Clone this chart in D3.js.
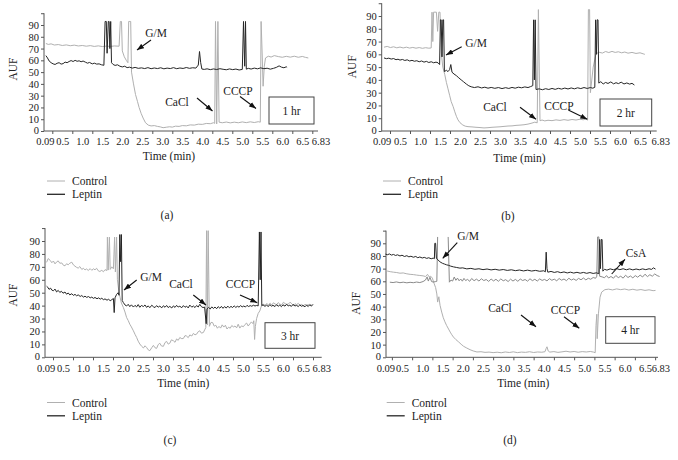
<!DOCTYPE html>
<html><head><meta charset="utf-8">
<script src="https://cdn.jsdelivr.net/npm/d3@7"></script>
<style>
body{margin:0;background:#fff}
svg text{font-family:"Liberation Serif","DejaVu Serif",serif;fill:#222;font-size:11.5px}
</style>
</head><body>
<svg id="chart" width="678" height="460"></svg>
<script>
// ---------- data ----------
const xTickValues = [0.09,0.5,1.0,1.5,2.0,2.5,3.0,3.5,4.0,4.5,5.0,5.5,6.0,6.5,6.83];
const xTickLabels = ["0.09","0.5","1.0","1.5","2.0","2.5","3.0","3.5","4.0","4.5","5.0","5.5","6.0","6.5","6.83"];
const xMinorTicks = [0.25,0.75,1.25,1.75,2.25,2.75,3.25,3.75,4.25,4.75,5.25,5.75,6.25,6.75];
const yTickValues = [0,10,20,30,40,50,60,70,80,90,100];
const yTickLabels = ["0","10","20","30","40","50","60","70","80","90",""];
const seriesNames = ["Control","Leptin"];
const panelLabels = ["(a)","(b)","(c)","(d)"];
const hourLabels = ["1 hr","2 hr","3 hr","4 hr"];
const xTitle = "Time (min)";
const yTitle = "AUF";

// panel (a) 1 hr
const ctrlA = [[0.09,74.3],[0.15,73.5],[0.22,74],[0.3,73],[0.4,73.4],[0.5,72.6],[0.6,73.1],[0.7,72.4],[0.8,72.9],[0.9,72.2],[1.0,72.6],[1.1,72],[1.2,72.5],[1.3,71.8],[1.4,72.3],[1.5,71.7],[1.6,72.1],[1.7,71.8],[1.8,72.2],[1.92,72],[1.95,93],[1.98,93],[2.0,68],[2.05,63],[2.1,60],[2.14,58],[2.16,93],[2.19,93],[2.21,93],[2.23,50],[2.28,40],[2.33,31],[2.38,25],[2.42,20],[2.47,15],[2.52,11],[2.58,7],[2.65,5],[2.72,4.3],[2.8,4.6],[2.88,3.9],[2.95,3.5],[3.02,2.8],[3.1,3.2],[3.18,3.6],[3.25,3.3],[3.33,4.1],[3.42,3.9],[3.5,4.6],[3.6,4.4],[3.7,5.2],[3.8,5],[3.9,5.8],[4.0,5.6],[4.1,6.4],[4.2,6.2],[4.28,7],[4.31,6.5],[4.33,93],[4.36,6],[4.39,93],[4.42,7.5],[4.5,7],[4.6,7.6],[4.7,6.9],[4.8,7.5],[4.9,7],[5.0,7.7],[5.1,7.1],[5.2,7.8],[5.3,7.2],[5.4,7.9],[5.45,7.5],[5.47,93],[5.5,62],[5.52,38],[5.55,55],[5.58,62],[5.65,63.5],[5.72,62.8],[5.8,64],[5.9,63.2],[6.0,62.6],[6.1,63.4],[6.2,62.7],[6.3,63.5],[6.4,62.6],[6.5,63.3],[6.58,62.5],[6.65,62]];
const leptA = [[0.09,64],[0.13,62],[0.17,59.5],[0.22,58],[0.27,57],[0.32,56.5],[0.37,57.5],[0.42,58],[0.47,56.8],[0.52,57.2],[0.57,58.5],[0.62,58],[0.67,59],[0.72,59.8],[0.77,59],[0.82,60],[0.87,59.2],[0.92,59.6],[0.97,58.8],[1.02,59.4],[1.08,58.4],[1.13,57.6],[1.18,58.2],[1.25,57],[1.3,57.6],[1.36,56.8],[1.42,57],[1.48,56.2],[1.54,55.8],[1.57,93],[1.6,93],[1.62,66],[1.65,93],[1.67,93],[1.69,70],[1.71,93],[1.73,58],[1.77,56.5],[1.82,55.7],[1.88,56.2],[1.94,55],[2.0,54.4],[2.06,55],[2.12,53.8],[2.18,54.2],[2.25,53.4],[2.32,54],[2.4,53.2],[2.48,53.6],[2.56,53],[2.64,53.8],[2.72,52.9],[2.8,53.5],[2.88,53],[2.96,53.7],[3.04,52.8],[3.12,53.4],[3.2,53],[3.28,53.8],[3.36,52.9],[3.44,53.5],[3.52,53.1],[3.6,53.9],[3.68,53.2],[3.76,53.7],[3.84,53.4],[3.9,56],[3.93,67.5],[3.96,58],[3.99,52.6],[4.05,52.3],[4.12,52.8],[4.2,52.1],[4.28,52.7],[4.36,52.2],[4.44,52.9],[4.52,52.4],[4.6,52],[4.68,52.7],[4.76,52.1],[4.84,52.6],[4.92,51.8],[5.0,52.3],[5.03,93],[5.06,55],[5.08,93],[5.1,52.5],[5.15,53.2],[5.22,52.6],[5.3,53.4],[5.38,52.8],[5.46,53.6],[5.54,52.9],[5.62,53.3],[5.7,52.5],[5.78,53.2],[5.85,54],[5.92,55.3],[5.98,54.2],[6.04,53.7],[6.1,54.5],[6.12,54]];

// panel (b) 2 hr
const ctrlB = [[0.1,65.6],[0.18,66.2],[0.26,65.3],[0.34,65.9],[0.42,65.1],[0.5,65.7],[0.58,65],[0.66,65.6],[0.74,64.9],[0.82,65.4],[0.9,64.8],[0.98,65.3],[1.06,64.7],[1.14,65.2],[1.22,64.8],[1.28,65],[1.3,93],[1.32,70],[1.34,93],[1.41,93],[1.44,78],[1.47,93],[1.5,93],[1.53,62],[1.57,50],[1.62,44],[1.66,38],[1.7,33],[1.74,28],[1.78,23],[1.83,19],[1.87,15],[1.91,11.5],[1.95,8.7],[2.0,6.5],[2.07,4.7],[2.13,3.8],[2.2,3.4],[2.3,3.2],[2.4,2.9],[2.5,2.7],[2.6,2.4],[2.7,2.6],[2.8,2.9],[2.9,3.1],[3.0,3.3],[3.1,3.6],[3.2,3.9],[3.3,4],[3.4,4.4],[3.5,4.6],[3.6,4.9],[3.7,5.4],[3.8,6.2],[3.87,6.9],[3.93,6.4],[3.96,95],[4.0,8],[4.05,8.6],[4.12,7.9],[4.2,8.4],[4.3,8.1],[4.4,8.7],[4.5,8.3],[4.6,8.9],[4.7,8.4],[4.8,9],[4.9,8.6],[5.0,9.2],[5.08,8.8],[5.16,9.4],[5.19,8.5],[5.21,95],[5.24,95],[5.26,30],[5.33,50],[5.4,60.5],[5.48,61.6],[5.56,61],[5.64,62.2],[5.72,61.4],[5.8,62.3],[5.88,61.5],[5.96,62],[6.04,61.2],[6.12,61.8],[6.2,60.9],[6.3,61.5],[6.4,60.7],[6.5,61.2],[6.58,60.4],[6.62,60]];
const leptB = [[0.1,57.2],[0.16,56.6],[0.22,57],[0.28,56.3],[0.34,56.7],[0.4,55.8],[0.45,56.2],[0.5,55.5],[0.56,56],[0.62,55.2],[0.68,55.7],[0.74,54.8],[0.8,55.3],[0.86,54.6],[0.92,55],[0.98,54.2],[1.04,54.8],[1.1,53.9],[1.16,54.5],[1.22,53.6],[1.28,54.2],[1.34,53.4],[1.4,53.9],[1.45,53.4],[1.49,52],[1.51,87],[1.53,87],[1.55,58],[1.57,87],[1.59,87],[1.61,46.5],[1.66,47.5],[1.7,46.5],[1.74,48],[1.77,52],[1.8,46],[1.85,44.6],[1.91,43.3],[1.97,41.6],[2.03,40],[2.09,38.5],[2.16,36.7],[2.22,35.4],[2.28,34.6],[2.36,34],[2.45,34.6],[2.54,33.7],[2.62,34.3],[2.7,33.5],[2.78,34.1],[2.87,33.4],[2.96,34],[3.05,33.2],[3.14,33.9],[3.22,33.3],[3.3,34.1],[3.38,33.5],[3.46,34.3],[3.54,33.8],[3.62,34.5],[3.7,34],[3.76,34.7],[3.82,35.5],[3.84,87],[3.86,40],[3.88,87],[3.9,32.5],[3.98,33],[4.06,32.3],[4.14,33.1],[4.22,32.5],[4.3,33.3],[4.38,32.6],[4.46,33.4],[4.54,32.8],[4.62,33.6],[4.7,32.9],[4.78,33.7],[4.86,33],[4.94,33.8],[5.02,33.2],[5.1,34],[5.18,33.3],[5.26,34],[5.32,33.5],[5.37,34.2],[5.39,87],[5.41,60],[5.43,87],[5.45,87],[5.47,37.5],[5.52,38.6],[5.58,36.8],[5.64,38],[5.7,37.2],[5.77,38.4],[5.84,36.9],[5.9,37.8],[5.96,37.1],[6.03,38.2],[6.1,36.8],[6.17,37.6],[6.24,36.7],[6.3,37.3],[6.36,36]];

// panel (c) 3 hr
const ctrlC = [[0.09,73.5],[0.13,76.4],[0.18,75],[0.22,73.2],[0.26,74.5],[0.3,72.3],[0.34,73.8],[0.38,74.6],[0.42,72.8],[0.47,73],[0.51,71.2],[0.55,70.8],[0.59,72.4],[0.63,71.6],[0.67,72.8],[0.72,73.6],[0.76,71.5],[0.8,70.5],[0.84,69.6],[0.88,69],[0.92,70.2],[0.97,68],[1.01,68.9],[1.05,67.6],[1.09,68.4],[1.13,67.2],[1.18,68.6],[1.22,67.3],[1.26,68.5],[1.3,67.7],[1.34,68.9],[1.38,67],[1.42,66.4],[1.47,67.3],[1.51,66.2],[1.55,67.8],[1.6,67.2],[1.61,93],[1.63,67.5],[1.66,93],[1.68,68],[1.72,70],[1.76,68.5],[1.79,93],[1.81,66],[1.84,93],[1.86,60],[1.9,50],[1.93,46],[1.96,42],[2.01,38.5],[2.05,35],[2.09,30.8],[2.13,28.5],[2.17,25.6],[2.21,23.5],[2.26,20.5],[2.3,17.8],[2.34,15.4],[2.38,12.5],[2.42,10.3],[2.47,8.4],[2.51,7.2],[2.55,8.9],[2.59,7.6],[2.63,5.8],[2.67,5.1],[2.72,7.5],[2.76,9.2],[2.8,7.4],[2.84,6.9],[2.88,9.8],[2.92,10.9],[2.96,8.8],[3.01,8.5],[3.05,11.4],[3.09,12.3],[3.13,10.2],[3.17,10.9],[3.21,13.5],[3.26,12.8],[3.3,11.6],[3.34,14.2],[3.38,13.1],[3.42,15.3],[3.47,14.4],[3.51,14.6],[3.55,16.8],[3.59,16.4],[3.63,15.2],[3.67,17.3],[3.72,16.5],[3.76,18.5],[3.8,17.4],[3.84,17.9],[3.88,19.8],[3.92,20.5],[3.96,18.7],[4.01,19.2],[4.05,21.8],[4.07,23],[4.09,98],[4.11,25],[4.13,98],[4.16,24],[4.2,27],[4.24,26.9],[4.28,24.1],[4.32,24.8],[4.36,22.5],[4.4,23.9],[4.44,22.6],[4.48,25.1],[4.52,23.4],[4.56,24.8],[4.6,21.9],[4.64,23.3],[4.68,22.5],[4.72,24.6],[4.76,23.5],[4.8,24.2],[4.84,22.8],[4.88,25.6],[4.92,22.6],[4.96,24.3],[5.01,23.7],[5.05,25.4],[5.09,26.5],[5.13,24.2],[5.17,25.8],[5.21,27.4],[5.25,26],[5.27,28.3],[5.29,13.8],[5.31,24],[5.34,30],[5.38,34],[5.42,35.9],[5.46,39.7],[5.5,41.2],[5.55,40.3],[5.59,41.5],[5.64,40.7],[5.68,41.8],[5.72,40.5],[5.76,42.2],[5.8,41.3],[5.84,40.6],[5.88,42.3],[5.92,41.2],[5.97,40.5],[6.01,42.6],[6.05,41.6],[6.09,40.8],[6.14,41.4],[6.18,42.7],[6.22,41.3],[6.26,40.2],[6.3,41.5],[6.34,40.6],[6.38,41.8],[6.42,40.4],[6.47,40.9],[6.51,39.8],[6.55,41.1],[6.59,40.2],[6.63,40.8],[6.67,40.1],[6.72,40.5]];
const leptC = [[0.09,55],[0.12,54.2],[0.15,52.6],[0.19,53.5],[0.22,52],[0.26,51.5],[0.3,52.8],[0.34,50.6],[0.38,51.8],[0.42,50.2],[0.46,51.1],[0.5,49.6],[0.55,50.5],[0.59,48.8],[0.63,49.8],[0.67,48.3],[0.72,49.2],[0.76,47.9],[0.8,48.7],[0.84,47.6],[0.88,48.3],[0.93,47.1],[0.97,47.8],[1.01,46.6],[1.05,47.3],[1.09,46.4],[1.14,47],[1.18,46],[1.22,46.6],[1.26,45.6],[1.3,46.3],[1.35,45.3],[1.39,46],[1.43,45],[1.47,45.7],[1.51,44.6],[1.55,45.2],[1.6,44.2],[1.64,44.9],[1.68,43.8],[1.72,44.6],[1.76,45.5],[1.78,34.6],[1.8,46],[1.84,48.7],[1.88,50],[1.9,48],[1.92,95],[1.94,74],[1.96,95],[1.98,44],[2.01,42.3],[2.05,40.5],[2.09,39.7],[2.13,41],[2.17,39.2],[2.21,40.6],[2.26,38.9],[2.3,40.2],[2.34,39],[2.38,40.8],[2.42,38.7],[2.46,40.1],[2.51,39.3],[2.55,40.5],[2.59,38.6],[2.63,39.8],[2.67,38.4],[2.72,40.3],[2.76,39.1],[2.8,38.5],[2.84,40],[2.88,38.8],[2.92,39.6],[2.97,38.3],[3.01,39.9],[3.05,38.7],[3.09,40.1],[3.13,38.5],[3.17,39.4],[3.22,38.2],[3.26,39.8],[3.3,38.6],[3.34,40.2],[3.38,38.9],[3.42,39.5],[3.47,38.4],[3.51,40],[3.55,38.7],[3.59,39.6],[3.63,38.2],[3.67,40.4],[3.72,38.8],[3.76,39.7],[3.8,38.5],[3.84,40.1],[3.88,38.9],[3.92,41],[3.96,39.2],[4.0,38.5],[4.04,38.9],[4.08,26],[4.1,37.5],[4.14,38.6],[4.18,37.4],[4.22,39],[4.26,37.8],[4.3,38.9],[4.34,37.6],[4.38,39.2],[4.42,38],[4.46,39.4],[4.5,37.9],[4.54,39.3],[4.58,38.1],[4.62,39.6],[4.66,38.3],[4.7,39.4],[4.74,38.5],[4.78,39.8],[4.82,38.6],[4.86,39.5],[4.9,38.8],[4.94,40],[4.98,39],[5.02,39.7],[5.06,38.9],[5.1,40.2],[5.14,39.3],[5.18,40],[5.22,39.5],[5.26,40.3],[5.3,39.7],[5.34,40.1],[5.38,39.8],[5.41,97],[5.43,60],[5.45,97],[5.47,40],[5.5,40.6],[5.55,39.4],[5.59,40.5],[5.63,39.2],[5.67,40.8],[5.71,39.6],[5.75,40.2],[5.8,39.3],[5.84,40.7],[5.88,39.5],[5.92,40.4],[5.96,39.2],[6.0,40.6],[6.05,39.6],[6.09,41],[6.13,39.8],[6.17,40.3],[6.21,39.4],[6.25,40.9],[6.3,39.7],[6.34,40.2],[6.38,39.3],[6.42,40.5],[6.46,39.5],[6.5,40.1],[6.55,39.1],[6.59,40.4],[6.63,39.3],[6.67,40.8],[6.71,39.6],[6.75,41]];

// panel (d) 4 hr
const ctrlD = [[0.09,68.5],[0.15,68],[0.21,67.6],[0.29,67.2],[0.37,66.9],[0.45,66.4],[0.53,66.6],[0.62,65.9],[0.7,65.5],[0.78,65.3],[0.86,64.9],[0.94,64.6],[1.02,64.3],[1.08,63.8],[1.13,65.5],[1.17,63.5],[1.21,64],[1.25,62.5],[1.29,58.5],[1.33,55],[1.36,50],[1.38,43.6],[1.41,47.8],[1.44,41],[1.48,35.7],[1.52,31.2],[1.56,28],[1.6,25.2],[1.65,22.3],[1.69,19.9],[1.73,17.8],[1.77,16],[1.83,14],[1.9,12.1],[1.96,10.3],[2.02,8.7],[2.1,7.3],[2.18,6],[2.26,5],[2.35,4.2],[2.45,4.4],[2.55,3.9],[2.65,4.1],[2.75,3.7],[2.85,4],[2.95,3.6],[3.05,4.2],[3.15,3.8],[3.25,4.3],[3.35,3.7],[3.45,4.1],[3.55,3.9],[3.65,4.4],[3.75,3.8],[3.85,4.2],[3.95,4],[4.03,4.4],[4.06,7],[4.08,8.3],[4.11,5],[4.15,4.1],[4.25,4.5],[4.35,3.9],[4.45,4.3],[4.55,4.8],[4.65,4.2],[4.75,4.6],[4.85,4],[4.95,4.5],[5.05,4.2],[5.15,4.6],[5.23,4.1],[5.27,3.6],[5.29,25.2],[5.31,34],[5.32,14.7],[5.35,34.3],[5.39,47.5],[5.43,51.5],[5.51,53.4],[5.6,53.8],[5.7,53.2],[5.8,54],[5.9,53.4],[6.0,53.9],[6.1,53.1],[6.2,53.7],[6.3,53],[6.4,53.5],[6.5,52.8],[6.6,53.3],[6.7,52.6],[6.76,52.8]];
const csaD = [[0.2,59.3],[0.28,59],[0.36,59.5],[0.45,58.9],[0.53,59.3],[0.62,58.8],[0.7,59.2],[0.78,58.9],[0.86,59.4],[0.94,59],[1.02,59.8],[1.08,61],[1.12,63.5],[1.15,60.2],[1.19,63.2],[1.23,59.8],[1.27,59.4],[1.32,59.7],[1.36,60],[1.38,95],[1.39,null],[1.64,95],[1.67,59.3],[1.71,61],[1.75,60.2],[1.79,63.4],[1.83,60.8],[1.87,62.5],[1.91,60.4],[1.95,61.8],[1.99,60.1],[2.03,62.3],[2.07,60.6],[2.12,61.5],[2.17,60],[2.22,62.2],[2.28,60.5],[2.34,61.7],[2.4,60.2],[2.46,62],[2.52,60.6],[2.58,61.4],[2.64,59.9],[2.7,61.8],[2.76,60.3],[2.82,61.6],[2.88,60],[2.94,61.9],[3.0,60.4],[3.06,61.3],[3.12,59.8],[3.18,61.7],[3.24,60.2],[3.3,61.5],[3.36,60],[3.42,61.8],[3.48,60.6],[3.54,61.4],[3.6,60.1],[3.66,62],[3.72,60.5],[3.78,61.6],[3.84,60.2],[3.9,61.9],[3.96,60.7],[4.02,61.5],[4.08,60.3],[4.14,62.1],[4.2,60.8],[4.26,61.7],[4.32,60.4],[4.38,62.2],[4.44,60.9],[4.5,61.8],[4.56,60.5],[4.62,62.4],[4.68,61],[4.74,61.9],[4.8,60.7],[4.86,62.3],[4.92,61.2],[4.98,62.6],[5.04,61.1],[5.1,62.4],[5.16,61.6],[5.22,63],[5.28,62.4],[5.31,64],[5.33,95],[5.36,95],[5.38,64],[5.44,63.5],[5.5,62.8],[5.55,64.5],[5.6,62.6],[5.66,63.8],[5.72,62.4],[5.78,64.6],[5.84,62.9],[5.9,64],[5.96,62.5],[6.02,64.8],[6.08,63],[6.14,64.2],[6.2,62.7],[6.26,64.5],[6.32,63.2],[6.38,64.9],[6.44,63.4],[6.5,65.6],[6.56,63.7],[6.62,65.2],[6.68,64],[6.74,65.8],[6.8,64.5],[6.86,63.8]];
const leptD = [[0.09,81.5],[0.14,81],[0.19,81.6],[0.24,80.7],[0.29,81.2],[0.34,80.4],[0.39,80.9],[0.45,80],[0.5,80.6],[0.56,79.6],[0.62,80.2],[0.67,79.3],[0.72,79.8],[0.78,79],[0.84,79.6],[0.89,78.6],[0.94,79.2],[1.0,78.4],[1.05,78.9],[1.11,78.1],[1.16,78.6],[1.22,77.8],[1.27,78.3],[1.3,77.9],[1.31,90],[1.33,90],[1.35,78],[1.39,77],[1.42,75.8],[1.44,75.3],[1.5,74.2],[1.55,73.6],[1.6,73],[1.65,72.6],[1.7,72],[1.77,71.4],[1.85,70.9],[1.93,70.4],[2.0,70.6],[2.1,69.8],[2.2,70.2],[2.3,69.5],[2.4,69.9],[2.5,69.2],[2.6,69.7],[2.7,69],[2.8,69.5],[2.9,68.8],[3.0,69.3],[3.1,68.6],[3.2,69.1],[3.3,68.4],[3.4,68.9],[3.5,68.2],[3.6,68.8],[3.7,68.1],[3.8,68.6],[3.9,67.9],[4.0,68.3],[4.04,67.5],[4.06,83],[4.08,70],[4.1,67.2],[4.18,67.8],[4.26,67],[4.34,67.6],[4.42,66.8],[4.5,67.4],[4.58,66.6],[4.66,67.2],[4.74,66.5],[4.82,67.1],[4.9,66.4],[4.98,67],[5.06,66.3],[5.14,66.9],[5.22,66.2],[5.3,66.7],[5.36,66],[5.38,93],[5.4,70],[5.42,93],[5.44,93],[5.46,68],[5.5,69.5],[5.56,68.8],[5.64,69.8],[5.72,69.1],[5.8,70],[5.88,69.2],[5.96,69.9],[6.04,69.1],[6.12,69.8],[6.2,69],[6.28,69.7],[6.36,69.1],[6.44,69.8],[6.52,69.2],[6.6,69.9],[6.66,69.4],[6.71,70.6],[6.76,69.6]];

// ---------- layout ----------
const panels = [
  {ctrl:ctrlA, lept:leptA, xr:[62.3,302.3], yAxisX:44, xEnd:318, y0:131, y90:25, tickLab:13.5, titleY:160, legY:185, lblX:167, lblY:219,
   firstDx:-1, lastDx:5, box:[269,97,45,27], ylabX:13, ylabY:69, legX:47, titleX:169,
   notes:[{t:"G/M",x:156,y:37,a:[151,40,137,50]},{t:"CaCl",x:177,y:105.5,a:[197,98,212.5,111]},{t:"CCCP",x:238,y:94.5,a:[240,96.5,256,108.5]}]},
  {ctrl:ctrlB, lept:leptB, xr:[400,640], yAxisX:381.7, xEnd:656.7, y0:131, y90:16, tickLab:14, titleY:161.5, legY:185, lblX:508, lblY:220,
   firstDx:-2, lastDx:7, box:[600,99,51.7,27], ylabX:351.7, ylabY:66.7, legX:383, titleX:519.5,
   notes:[{t:"G/M",x:476,y:47,a:[461.7,46.7,446,55]},{t:"CaCl",x:495,y:110.5,a:[520,107.3,536,119.3]},{t:"CCCP",x:559,y:110,a:[568.3,110,587.3,119.3]}]},
  {ctrl:ctrlC, lept:leptC, xr:[63,303], yAxisX:45, xEnd:321.7, y0:357.3, y90:241, tickLab:14.5, titleY:386.5, legY:406.5, lblX:170, lblY:443.5,
   firstDx:-1, lastDx:5, box:[265,322.7,50,25.6], ylabX:13.3, ylabY:295, legX:47, titleX:183.3,
   notes:[{t:"G/M",x:151,y:280.5,a:[136.7,280,124,290]},{t:"CaCl",x:181,y:288,a:[193.3,295,206,305]},{t:"CCCP",x:240.5,y:288,a:[240,295,257.3,302.7]}]},
  {ctrl:ctrlD, lept:leptD, csa:csaD, xr:[402,645], yAxisX:386, xEnd:658, y0:357.3, y90:243.3, tickLab:14.5, titleY:386.5, legY:406.5, lblX:510, lblY:443.5,
   firstDx:0, lastDx:2, box:[605.7,316.7,49.3,26.6], ylabX:356, ylabY:303.3, legX:386.7, titleX:523.3,
   notes:[{t:"G/M",x:468,y:240,a:[457.3,242.7,442.7,258.3]},{t:"CsA",x:636,y:257,a:[611.7,274,625,259.3]},{t:"CaCl",x:500,y:312,a:[521,315,536,326.7]},{t:"CCCP",x:565.5,y:314,a:[564,316.7,579.3,328.3]}]}
];

const svg = d3.select("#chart");
svg.append("defs").append("marker")
  .attr("id","arr").attr("viewBox","0 0 8 6").attr("refX",8).attr("refY",3)
  .attr("markerWidth",7).attr("markerHeight",5.5).attr("markerUnits","userSpaceOnUse")
  .attr("orient","auto")
  .append("path").attr("d","M0,0L8,3L0,6Z").attr("fill","#111");

const axisColor = "#555";
const tickFont = "10.5px";
panels.forEach((p,i) => {
  const g = svg.append("g");
  const x = d3.scaleLinear().domain([0.5,6.5]).range(p.xr);
  const y = d3.scaleLinear().domain([0,90]).range([p.y0,p.y90]);

  // y axis
  const ya = g.append("g").attr("transform",`translate(${p.yAxisX},0)`)
    .call(d3.axisLeft(y).tickValues(yTickValues).tickSize(3).tickSizeOuter(0)
      .tickFormat((d,k)=>yTickLabels[k]));
  ya.select(".domain").remove();
  ya.append("line").attr("x1",0).attr("x2",0).attr("y1",y(0)).attr("y2",y(100)).attr("stroke",axisColor);
  ya.selectAll(".tick line").attr("stroke",axisColor);
  ya.selectAll(".tick text").attr("x",-5).attr("dy","0.33em").attr("fill","#222")
    .style("font-size",tickFont).style("font-family",'"Liberation Serif",serif');
  ya.selectAll(".tick text").filter(d=>d===0).attr("dy","0.2em");

  // x axis
  const xa = g.append("g").attr("transform",`translate(0,${p.y0})`);
  xa.append("line").attr("x1",p.yAxisX).attr("x2",p.xEnd).attr("y1",0).attr("y2",0).attr("stroke",axisColor);
  const xm = xa.append("g").call(d3.axisBottom(x).tickValues(xMinorTicks).tickSize(3).tickFormat(""));
  xm.select(".domain").remove();
  xm.selectAll(".tick line").attr("stroke",axisColor);
  const xl = xa.append("g").call(d3.axisBottom(x).tickValues(xTickValues).tickSize(0)
      .tickFormat((d,k)=>xTickLabels[k]));
  xl.select(".domain").remove();
  xl.selectAll(".tick text").attr("y",p.tickLab).attr("dy","0").attr("fill","#222")
    .style("font-size",tickFont).style("font-family",'"Liberation Serif",serif');
  xl.selectAll(".tick text").filter((d,k)=>k===0).attr("dx",p.firstDx);
  xl.selectAll(".tick text").filter((d,k)=>k===xTickValues.length-1).attr("dx",p.lastDx);

  // titles
  g.append("text").attr("x",p.titleX).attr("y",p.titleY).attr("text-anchor","middle").text(xTitle);
  g.append("text").attr("transform",`translate(${p.ylabX},${p.ylabY}) rotate(-90)`)
    .attr("text-anchor","middle").attr("dy","0.35em").text(yTitle);

  // lines
  const line = d3.line().defined(d=>d[1]!==null).x(d=>x(d[0])).y(d=>y(d[1]));
  g.append("path").datum(p.ctrl).attr("d",line).attr("fill","none").attr("stroke","#b0b0b0").attr("stroke-width",1);
  if (p.csa) g.append("path").datum(p.csa).attr("d",line).attr("fill","none").attr("stroke","#8a8a8a").attr("stroke-width",1);
  g.append("path").datum(p.lept).attr("d",line).attr("fill","none").attr("stroke","#262626").attr("stroke-width",1);

  // annotations
  p.notes.forEach(n => {
    g.append("text").attr("x",n.x).attr("y",n.y).attr("text-anchor","middle").text(n.t);
    g.append("line").attr("x1",n.a[0]).attr("y1",n.a[1]).attr("x2",n.a[2]).attr("y2",n.a[3])
      .attr("stroke","#111").attr("stroke-width",1.1).attr("marker-end","url(#arr)");
  });

  // hour box
  g.append("rect").attr("x",p.box[0]).attr("y",p.box[1]).attr("width",p.box[2]).attr("height",p.box[3])
    .attr("fill","#fff").attr("stroke","#444").attr("stroke-width",1);
  g.append("text").attr("x",p.box[0]+p.box[2]/2).attr("y",p.box[1]+p.box[3]/2).attr("dy","0.35em")
    .attr("text-anchor","middle").text(hourLabels[i]);

  // legend
  const colors = ["#b0b0b0","#262626"];
  seriesNames.forEach((s,k) => {
    const ly = p.legY + k*13.3;
    g.append("line").attr("x1",p.legX).attr("x2",p.legX+18).attr("y1",ly-4).attr("y2",ly-4)
      .attr("stroke",colors[k]).attr("stroke-width",k?1.3:1);
    g.append("text").attr("x",p.legX+25).attr("y",ly).text(s);
  });

  // panel label
  g.append("text").attr("x",p.lblX).attr("y",p.lblY).attr("text-anchor","middle").text(panelLabels[i]);
});
</script>
</body></html>
